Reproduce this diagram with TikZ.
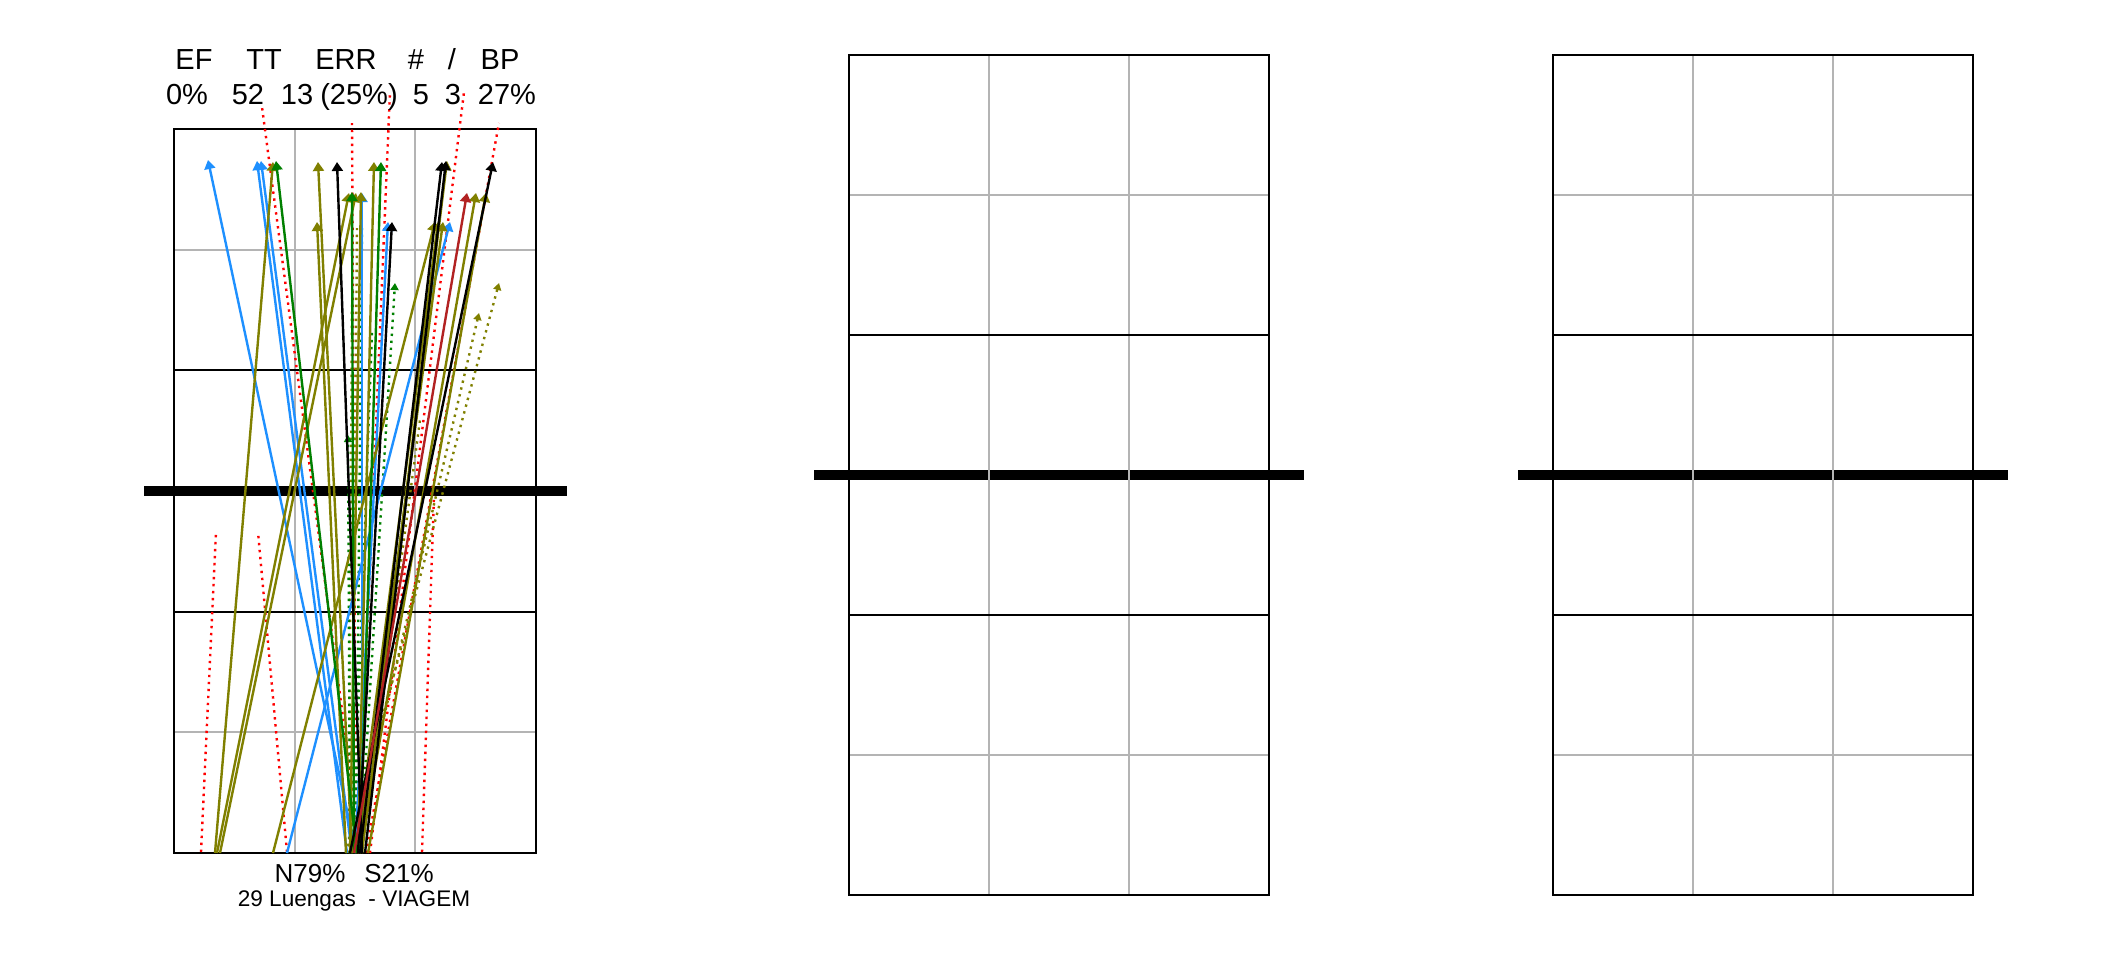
\documentclass[tikz,border=0pt]{standalone}
\usepackage{fontspec}
\setmainfont{Liberation Sans}
\usetikzlibrary{arrows.meta}
\definecolor{bluec}{RGB}{30,144,255}
\definecolor{olivec}{RGB}{128,128,0}
\definecolor{greenc}{RGB}{0,128,0}
\definecolor{brickc}{RGB}{178,34,34}
\definecolor{redc}{RGB}{255,0,0}
\definecolor{gridc}{RGB}{180,180,180}
\tikzset{
  hdr/.style={anchor=base, inner sep=0pt, font=\fontsize{14.5}{17}\selectfont},
  foot/.style={anchor=base, inner sep=0pt, font=\fontsize{13}{15}\selectfont},
  footsmall/.style={anchor=base, inner sep=0pt, font=\fontsize{11.3}{13}\selectfont},
  netline/.style={line width=5pt, black},
  gridline/.style={line width=1.1pt, gridc},
  courtline/.style={line width=1.2pt, black},
  soltraj/.style={line width=1.2pt, -{Triangle[width=5.5pt,length=4.5pt]}},
  dottraj/.style={line width=1.2pt, dash pattern=on 1.2pt off 2.3pt, -{Triangle[width=4pt,length=3.5pt]}},
  dotplain/.style={line width=1.2pt, dash pattern=on 1.2pt off 2.3pt},
  errtraj/.style={line width=1.2pt, redc, dash pattern=on 1.2pt off 2.3pt}
}
\begin{document}
\begin{tikzpicture}[x=0.5pt,y=-0.5pt]
\useasboundingbox (0,0) rectangle (2112,960);
\fill[white] (0,0) rectangle (2112,960);

% ---------- court 1 ----------
\draw[netline] (144,491) -- (567,491);
\draw[gridline] (295,129) -- (295,853);
\draw[gridline] (415,129) -- (415,853);
\draw[gridline] (174,249.7) -- (536,249.7);
\draw[gridline] (174,732) -- (536,732);
\draw[courtline] (174,370) -- (536,370);
\draw[courtline] (174,612) -- (536,612);
\draw[courtline] (174,129) rectangle (536,853);

% error serves (red dotted)
\foreach \sx/\sy/\ex/\ey in {361/853/262/107, 356/853/352/123, 358/853/390/92,
  370/853/464/92, 366/853/499/123, 201/852/216/532, 287/852/258/532, 422/852/434/495}
  \draw[errtraj] (\sx,\sy) -- (\ex,\ey);

% plain dotted traces
\foreach \c/\sx/\ex/\ey in {olivec/352/357/228, greenc/356/362/228, olivec/349/352/300,
  olivec/362/420/420, greenc/353/372/330}
  \draw[dotplain, draw=\c] (\sx,853) -- (\ex,\ey);

% dotted serves with small arrowheads
\foreach \c/\sx/\ex/\ey in {greenc/360/395/283, greenc/350/348/435,
  olivec/346/499/283, olivec/352/479/313}
  \draw[dottraj, draw=\c] (\sx,853) -- (\ex,\ey);

% solid serves
\foreach \c/\sx/\ex/\ey in {
  bluec/356/208/160, bluec/347/257/161, bluec/352/261/161, bluec/362/362/193,
  bluec/355/388/222, bluec/287/450/222,
  olivec/215/273/162, olivec/352/318/162, olivec/346/317/222, olivec/217/349/193,
  olivec/220/356/193, olivec/350/361/192, olivec/358/374/162, olivec/362/447/161,
  olivec/360/476/193, olivec/368/486/193, olivec/273/435/222, olivec/356/438/222,
  olivec/358/443/222,
  greenc/357/276/161, greenc/354/352/192, greenc/360/381/162,
  black/362/337/162, black/358/392/222, black/360/442/162, black/365/446/161,
  black/350/493/162,
  brickc/354/467/193}
  \draw[soltraj, draw=\c] (\sx,853) -- (\ex,\ey);

% header texts
\node[hdr] (hEF)  at (194,69) {EF};
\node[hdr] (hTT)  at (264,69) {TT};
\node[hdr] (hERR) at (346,69) {ERR};
\node[hdr] (hNum) at (416,69) {\#};
\node[hdr] (hSl)  at (452,69) {/};
\node[hdr] (hBP)  at (500,69) {BP};
\node[hdr] (vEF)  at (187,104) {0\%};
\node[hdr] (vTT)  at (248,104) {52};
\node[hdr] (vE1)  at (297,104) {13};
\node[hdr] (vE2)  at (359,104) {(25\%)};
\node[hdr] (vNum) at (421,104) {5};
\node[hdr] (vSl)  at (453,104) {3};
\node[hdr] (vBP)  at (507,104) {27\%};
% footer texts
\node[foot] (fN) at (310,882) {N79\%};
\node[foot] (fS) at (399,882) {S21\%};
\node[footsmall] (fName) at (354,906) {29 Luengas~ - VIAGEM};

% ---------- court 2 ----------
\draw[netline] (814,475) -- (1304,475);
\draw[gridline] (989,55) -- (989,895);
\draw[gridline] (1129,55) -- (1129,895);
\draw[gridline] (849,195) -- (1269,195);
\draw[gridline] (849,755) -- (1269,755);
\draw[courtline] (849,335) -- (1269,335);
\draw[courtline] (849,615) -- (1269,615);
\draw[courtline] (849,55) rectangle (1269,895);

% ---------- court 3 ----------
\draw[netline] (1518,475) -- (2008,475);
\draw[gridline] (1693,55) -- (1693,895);
\draw[gridline] (1833,55) -- (1833,895);
\draw[gridline] (1553,195) -- (1973,195);
\draw[gridline] (1553,755) -- (1973,755);
\draw[courtline] (1553,335) -- (1973,335);
\draw[courtline] (1553,615) -- (1973,615);
\draw[courtline] (1553,55) rectangle (1973,895);
\end{tikzpicture}
\end{document}
